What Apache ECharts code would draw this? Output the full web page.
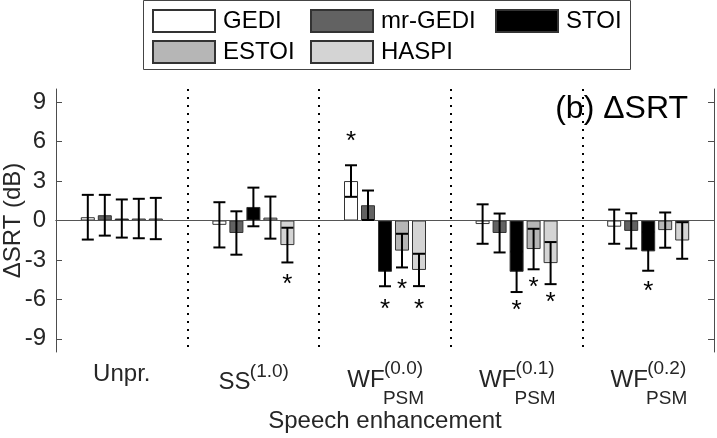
<!DOCTYPE html>
<html>
<head>
<meta charset="utf-8">
<script src="https://cdn.jsdelivr.net/npm/echarts@6/dist/echarts.min.js"></script>
<style>
html,body{margin:0;padding:0;background:#fff;}
#chart{width:717px;height:438px;}
</style>
</head>
<body>
<div id="chart"></div>
<script>
// 横轴分组
var groups = ['Unpr.', 'SS', 'WF', 'WF', 'WF'];
var groupSup = ['', '(1.0)', '(0.0)', '(0.1)', '(0.2)'];
var groupSub = ['', '', 'PSM', 'PSM', 'PSM'];
var yTicks = [-9, -6, -3, 0, 3, 6, 9];

// 各指标 ΔSRT 均值 / 标准差 / 星号位置 (dB)
var metrics = ['GEDI', 'mr-GEDI', 'STOI', 'ESTOI', 'HASPI'];
var gediMean = [0.25, -0.33, 3.0, -0.27, -0.47];
var mrGediMean = [0.4, -0.95, 1.16, -0.95, -0.79];
var stoiMean = [0.15, 1.03, -3.9, -3.9, -2.35];
var estoiMean = [0.15, 0.22, -2.29, -2.17, -0.73];
var haspiMean = [0.15, -1.87, -3.76, -3.24, -1.52];

var gediSd = [1.7, 1.72, 1.2, 1.5, 1.3];
var mrGediSd = [1.55, 1.65, 1.12, 1.48, 1.34];
var stoiSd = [1.45, 1.47, 1.1, 1.54, 1.47];
var estoiSd = [1.5, 1.6, 1.28, 1.54, 1.34];
var haspiSd = [1.57, 1.32, 1.23, 1.6, 1.39];

var gediStar = [null, null, 6.45, null, null];
var mrGediStar = [null, null, null, null, null];
var stoiStar = [null, null, -6.35, -6.45, -4.93];
var estoiStar = [null, null, -4.8, -4.7, null];
var haspiStar = [null, -4.4, -6.3, -5.8, null];

var means = [gediMean, mrGediMean, stoiMean, estoiMean, haspiMean];
var sds = [gediSd, mrGediSd, stoiSd, estoiSd, haspiSd];
var stars = [gediStar, mrGediStar, stoiStar, estoiStar, haspiStar];

// 样式
var fills = ['#ffffff', '#626262', '#000000', '#b6b6b6', '#d4d4d4'];
var barW = 14, barSep = 3;
var font = 'Liberation Sans';
var txt = '#262626';

var chart = echarts.init(document.getElementById('chart'));

function errItem(k) {
    return function (params, api) {
        var i = api.value(0), m = api.value(1), s = api.value(2);
        var x = api.coord([i, m])[0] + (k - 2) * (barW + barSep);
        var yt = api.coord([i, m + s])[1];
        var yb = api.coord([i, m - s])[1];
        var st = {stroke: '#000', lineWidth: 2};
        return {type: 'group', children: [
            {type: 'line', shape: {x1: x, y1: yt, x2: x, y2: yb}, style: st},
            {type: 'line', shape: {x1: x - 6, y1: yt, x2: x + 6, y2: yt}, style: st},
            {type: 'line', shape: {x1: x - 6, y1: yb, x2: x + 6, y2: yb}, style: st}
        ]};
    };
}

function starItem(k) {
    return function (params, api) {
        var p = api.coord([api.value(0), api.value(1)]);
        return {type: 'text', style: {
            text: '*', x: p[0] + (k - 2) * (barW + barSep), y: p[1] + 6,
            align: 'center', verticalAlign: 'middle',
            fontSize: 26, fontFamily: font, fill: '#000'
        }};
    };
}

var series = [];
metrics.forEach(function (name, k) {
    var bar = {
        name: name, type: 'bar', barWidth: barW, barGap: (barSep / barW * 100) + '%',
        data: means[k],
        itemStyle: {color: fills[k], borderColor: '#333', borderWidth: 1},
        z: 2
    };
    if (k === 0) {
        bar.markLine = {
            silent: true, symbol: 'none', label: {show: false},
            lineStyle: {color: '#555', width: 1, type: 'solid'},
            data: [{yAxis: 0}]
        };
    }
    series.push(bar);
});
metrics.forEach(function (name, k) {
    series.push({
        name: name + ' err', type: 'custom', renderItem: errItem(k), z: 5,
        encode: {x: 0, y: 1},
        data: means[k].map(function (v, i) { return [i, v, sds[k][i]]; })
    });
    var sd = [];
    stars[k].forEach(function (v, i) { if (v !== null) sd.push([i, v]); });
    if (sd.length) {
        series.push({
            name: name + ' star', type: 'custom', renderItem: starItem(k), z: 5,
            encode: {x: 0, y: 1}, data: sd
        });
    }
});

var option = {
    animation: false,
    textStyle: {fontFamily: font},
    title: {
        text: '(b) \u0394SRT', right: 29, top: 93, padding: 0,
        textStyle: {fontSize: 32, fontWeight: 'normal', color: '#000', fontFamily: font}
    },
    legend: [
        {
            top: 9, left: 152, padding: 0, itemWidth: 62, itemHeight: 22, itemGap: 10,
            icon: 'rect', selectedMode: false,
            textStyle: {fontSize: 24, color: '#000', lineHeight: 22, padding: [0, 0, 0, 3]},
            data: [{name: 'GEDI', textStyle: {width: 77}}, {name: 'mr-GEDI', textStyle: {width: 104}}, {name: 'STOI'}]
        },
        {
            top: 40, left: 152, padding: 0, itemWidth: 62, itemHeight: 22, itemGap: 10,
            icon: 'rect', selectedMode: false,
            textStyle: {fontSize: 24, color: '#000', lineHeight: 22, padding: [0, 0, 0, 3]},
            data: [{name: 'ESTOI', textStyle: {width: 77}}, {name: 'HASPI'}]
        }
    ],
    graphic: [{
        type: 'rect', shape: {x: 143.5, y: 0.5, width: 487, height: 69},
        style: {fill: 'none', stroke: '#444', lineWidth: 1}
    }],
    grid: {left: 56, right: 3, top: 89, bottom: 86, containLabel: false, outerBoundsMode: 'none'},
    xAxis: [
        {
            type: 'category', data: groups, position: 'bottom',
            name: 'Speech enhancement', nameLocation: 'middle', nameGap: 57, nameMoveOverlap: false,
            nameTextStyle: {fontSize: 24, color: txt},
            axisLine: {lineStyle: {color: '#4d4d4d', width: 1}},
            axisTick: {inside: true, alignWithLabel: true, length: 6, lineStyle: {color: '#4d4d4d'}},
            splitLine: {show: true, showMinLine: false, showMaxLine: false, interval: 0,
                lineStyle: {color: '#000', width: 2, type: [2, 6]}},
            axisLabel: {
                interval: 0, margin: 13, color: txt,
                formatter: function (value, i) {
                    if (!groupSup[i]) return '{u|' + value + '}';
                    if (!groupSub[i]) return '{ssSup|' + groupSup[i] + '}\n{ssMain|' + value + '}';
                    return '{wfSup|' + groupSup[i] + '}\n{wfMain|' + value + '}\n{wfSub|' + groupSub[i] + '}';
                },
                rich: {
                    u: {fontSize: 24, lineHeight: 19, color: txt},
                    ssSup: {fontSize: 19, lineHeight: 13, width: 38, padding: [0, 0, 0, 32], color: txt},
                    ssMain: {fontSize: 24, lineHeight: 8, width: 32, padding: [0, 38, 0, 0], color: txt},
                    wfSup: {fontSize: 19, lineHeight: 7, width: 38, padding: [0, 0, 0, 37], color: txt},
                    wfMain: {fontSize: 24, lineHeight: 16, width: 37, padding: [0, 38, 0, 0], color: txt},
                    wfSub: {fontSize: 19, lineHeight: 21, width: 38, padding: [0, 0, 0, 37], color: txt}
                }
            }
        },
        {
            type: 'category', data: groups, position: 'top',
            axisLine: {lineStyle: {color: '#4d4d4d', width: 1}},
            axisTick: {inside: true, alignWithLabel: true, length: 6, lineStyle: {color: '#4d4d4d'}},
            axisLabel: {show: false}, splitLine: {show: false}
        }
    ],
    yAxis: [
        {
            type: 'value', min: -10, max: 10, position: 'left',
            name: '\u0394SRT (dB)', nameLocation: 'middle', nameGap: 31, nameMoveOverlap: false,
            nameTextStyle: {fontSize: 24, color: txt},
            axisLine: {show: true, lineStyle: {color: '#4d4d4d', width: 1}},
            axisTick: {show: true, inside: true, length: 6, customValues: yTicks, lineStyle: {color: '#4d4d4d'}},
            axisLabel: {fontSize: 24, color: txt, margin: 10, customValues: yTicks},
            splitLine: {show: false}
        },
        {
            type: 'value', min: -10, max: 10, position: 'right',
            axisLine: {show: true, lineStyle: {color: '#4d4d4d', width: 1}},
            axisTick: {show: true, inside: true, length: 6, customValues: yTicks, lineStyle: {color: '#4d4d4d'}},
            axisLabel: {show: false}, splitLine: {show: false}
        }
    ],
    series: series
};
chart.setOption(option);
window.addEventListener('resize', function () {
    chart.resize();
});
</script>
</body>
</html>
